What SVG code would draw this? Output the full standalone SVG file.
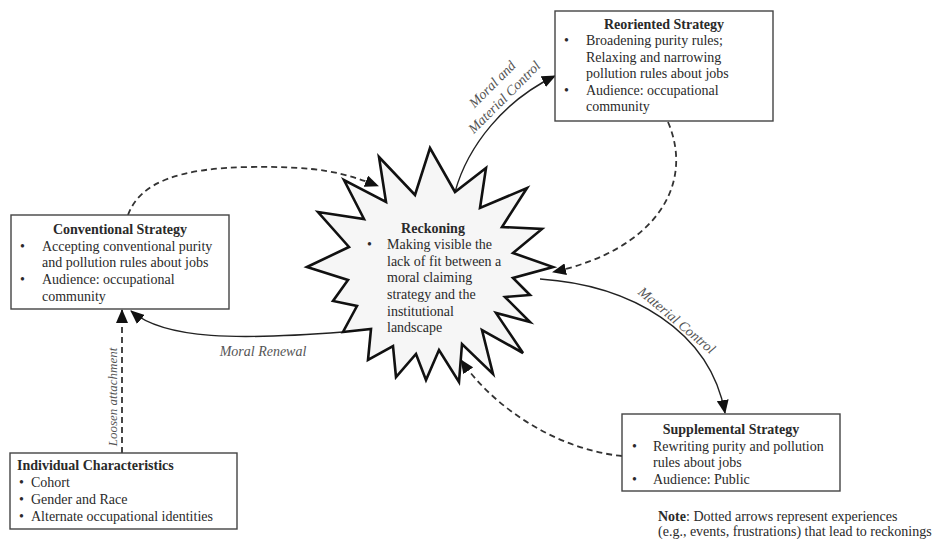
<svg xmlns="http://www.w3.org/2000/svg" width="935" height="539" viewBox="0 0 935 539">
<style>
  text { font-family: "Liberation Serif", "Times New Roman", serif; font-size: 14px; fill: #2a2a2a; }
  .title { font-weight: bold; text-anchor: middle; }
  .lbl { font-style: italic; fill: #555; }
  .box { fill: #fff; stroke: #444; stroke-width: 1.4; }
  .star { fill: #f6f6f6; stroke: #111; stroke-width: 2.6; stroke-linejoin: miter; }
  .solid { fill: none; stroke: #222; stroke-width: 1.4; }
  .dash { fill: none; stroke: #333; stroke-width: 1.8; stroke-dasharray: 6 4; }
</style>
<defs>
  <marker id="ah" viewBox="0 0 14 12" markerUnits="userSpaceOnUse" markerWidth="14" markerHeight="12" refX="13" refY="6" orient="auto">
    <path d="M0,0 L14,6 L0,12 z" fill="#111"/>
  </marker>
</defs>
<rect width="935" height="539" fill="#fff"/>

<g id="connectors">
  <path class="dash" d="M128,215 C140,182 180,168 250,167 S345,173 378,186" marker-end="url(#ah)"/>
  <path class="solid" d="M455,192 C468,145 505,100 555,76" marker-end="url(#ah)"/>
  <path class="dash" d="M668,122 C695,185 655,250 553,272" marker-end="url(#ah)"/>
  <path class="solid" d="M540,279 C630,285 710,330 725,413" marker-end="url(#ah)"/>
  <path class="solid" d="M343,332 C240,340 165,340 131,311" marker-end="url(#ah)"/>
  <path class="dash" d="M122,453 L122,310" marker-end="url(#ah)"/>
  <path class="dash" d="M622,456 C560,450 495,410 461,360" marker-end="url(#ah)"/>
  <text class="lbl" transform="translate(492,84) rotate(-45)" text-anchor="middle" y="5">Moral and</text>
  <text class="lbl" transform="translate(504,97) rotate(-45)" text-anchor="middle" y="5">Material Control</text>
  <text class="lbl" transform="translate(677,320) rotate(40)" text-anchor="middle" y="5">Material Control</text>
  <text class="lbl" x="263" y="356" text-anchor="middle">Moral Renewal</text>
  <text class="lbl" transform="translate(113,397) rotate(-90)" text-anchor="middle" y="4" style="font-size:13px">Loosen attachment</text>
</g>

<g id="reckoning">
  <polygon class="star" points="307,267 349,247 318,212 364,219 344,180 386,202 379,157 415,195 430,148 455,192 486,168 480,208 527,188 502,227 542,229 513,253 553,267 513,278 530,295 505,297 530,322 496,313 523,353 482,330 493,374 462,344 459,382 439,350 426,380 416,354 396,377 393,346 368,360 371,329 343,332 357,306 333,301 348,280"/>
  <text class="title" x="433" y="233">Reckoning</text>
  <text x="367" y="249">•</text>
  <text x="387" y="249">Making visible the</text>
  <text x="387" y="265.5">lack of fit between a</text>
  <text x="387" y="282">moral claiming</text>
  <text x="387" y="298.5">strategy and the</text>
  <text x="387" y="315.5">institutional</text>
  <text x="387" y="332">landscape</text>
</g>

<g id="conventional">
  <rect class="box" x="11" y="215" width="218" height="94"/>
  <text class="title" x="120" y="234">Conventional Strategy</text>
  <text x="20" y="251">•</text>
  <text x="42" y="251">Accepting conventional purity</text>
  <text x="42" y="267">and pollution rules about jobs</text>
  <text x="20" y="284">•</text>
  <text x="42" y="284">Audience: occupational</text>
  <text x="42" y="301">community</text>
</g>

<g id="reoriented">
  <rect class="box" x="555" y="11" width="218" height="110"/>
  <text class="title" x="664" y="29">Reoriented Strategy</text>
  <text x="564" y="45">•</text>
  <text x="586" y="45">Broadening purity rules;</text>
  <text x="586" y="62">Relaxing and narrowing</text>
  <text x="586" y="78">pollution rules about jobs</text>
  <text x="564" y="95">•</text>
  <text x="586" y="95">Audience: occupational</text>
  <text x="586" y="111">community</text>
</g>

<g id="supplemental">
  <rect class="box" x="622" y="414" width="218" height="77"/>
  <text class="title" x="731" y="434">Supplemental Strategy</text>
  <text x="632" y="451">•</text>
  <text x="653" y="451">Rewriting purity and pollution</text>
  <text x="653" y="467">rules about jobs</text>
  <text x="632" y="484">•</text>
  <text x="653" y="484">Audience: Public</text>
</g>

<g id="individual">
  <rect class="box" x="10" y="453" width="227" height="76"/>
  <text x="17" y="470" style="font-weight:bold">Individual Characteristics</text>
  <text x="19" y="487">•</text>
  <text x="31" y="487">Cohort</text>
  <text x="19" y="504">•</text>
  <text x="31" y="504">Gender and Race</text>
  <text x="19" y="521">•</text>
  <text x="31" y="521">Alternate occupational identities</text>
</g>

<g id="note">
  <text x="658" y="521"><tspan font-weight="bold">Note</tspan>: Dotted arrows represent experiences</text>
  <text x="658" y="536">(e.g., events, frustrations) that lead to reckonings</text>
</g>
</svg>
